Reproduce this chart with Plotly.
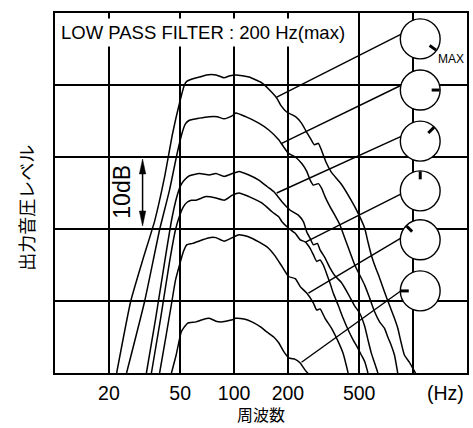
import math
import plotly.graph_objects as go

# ---------------- data (Hz, dB) ----------------
FREQ_MIN, FREQ_MAX = 10, 2000
DB_MIN, DB_MAX = 0, 50

tick_vals = [20, 50, 100, 200, 500, 1000]
tick_text = ["20", "50", "100", "200", "500", ""]

c1_f = [22.1, 26.5, 30.9, 36.1, 40.9, 45.4, 49.6, 52.8, 54.4, 57.8, 64.0, 70.0, 79.5, 88.0, 93.8, 102.6,
        121.1, 142.9, 162.4, 173.1, 182.1, 196.7, 220.6, 238.1, 253.7, 267.0, 281.0, 295.7, 307.2, 327.5,
        349.1, 396.6, 450.6, 492.7, 536.6, 559.6, 583.7, 609.5, 649.7, 692.5, 738.1, 786.7, 820.6, 855.9,
        894, 952.6, 993.6, 1036]
c1_db = [0, 10.0, 15.7, 21.2, 27.2, 33.3, 37.5, 40.0, 40.5, 40.8, 41.1, 41.4, 41.4, 41.0, 41.25, 41.4,
         41.1, 40.3, 39.0, 38.2, 37.2, 36.25, 35.6, 34.7, 33.5, 32.6, 31.7, 31.9, 31.0, 29.2,
         27.9, 26.25, 24.0, 22.2, 20.1, 18.2, 16.4, 15.0, 13.2, 11.25, 9.4, 7.6, 6.25, 4.3,
         2.5, 1.5, 0.7, -0.1]

c2_f = [25.1, 31.7, 38.4, 43.6, 48.3, 51.5, 53.5, 56.3, 64.0, 72.7, 80.5, 88.0, 97.5, 102.2, 116.1, 137.5,
        156.3, 177.6, 189.2, 201.7, 219.7, 239.0, 254.7, 266.1, 277.5, 295.7, 308.4, 322.1, 343.4, 365.9,
        390.0, 415.7, 443.2, 472.3, 503.4, 536.6, 571.9, 609.5, 649.7, 692.5, 722.3, 753.4, 786.7, 820.6]
c2_db = [0, 10.0, 19.9, 25.4, 30.7, 33.5, 34.6, 35.1, 35.4, 35.6, 35.6, 35.3, 35.7, 36.1, 35.6, 34.7,
         33.75, 32.4, 31.4, 30.5, 30.0, 29.1, 28.0, 26.8, 26.1, 26.3, 25.65, 24.5, 23.1, 21.9,
         20.6, 18.7, 16.85, 15.0, 13.6, 12.2, 10.4, 8.5, 7.1, 6.2, 5.0, 3.9, 2.5, 0]

c3_f = [32.4, 36.5, 40.95, 44.8, 47.7, 50.2, 52.8, 56.3, 64.0, 72.7, 79.2, 88.0, 97.9, 106.6, 121.1, 137.5,
        152.9, 166.6, 185.2, 206.1, 229.2, 244.3, 254.7, 266.0, 277.5, 292.0, 302.2, 322.1, 343.4, 365.9,
        396.6, 433.6, 472.3, 503.4, 536.6, 559.7, 583.8, 609.5, 635.9]
c3_db = [0, 7.6, 15.4, 21.25, 24.3, 26.0, 26.8, 27.4, 27.7, 27.5, 27.7, 27.3, 27.7, 28.0, 27.5, 26.8,
         25.9, 25.2, 23.8, 22.6, 21.9, 21.0, 19.6, 18.7, 17.8, 18.0, 17.1, 16.0, 14.6, 13.5,
         12.6, 11.0, 9.3, 8.3, 6.5, 4.6, 2.8, 1.4, 0]

c4_f = [34.55, 38.9, 43.6, 47.1, 49.6, 52.2, 54.9, 57.8, 61.3, 69.7, 79.2, 88.0, 97.9, 106.6, 121.1, 143.5,
        163.0, 177.6, 185.2, 201.7, 219.7, 234.2, 249.6, 266.0, 277.5, 289.4, 302.2, 315.2, 328.8, 343.4,
        358.1, 381.7, 406.8, 433.6, 462.2, 492.6, 513.8, 536.6, 559.7]
c4_db = [0, 7.6, 15.4, 19.9, 21.8, 23.1, 23.75, 24.0, 24.0, 24.5, 24.3, 24.0, 24.7, 25.0, 24.5, 23.6,
         22.4, 21.7, 21.0, 20.1, 19.4, 18.5, 18.2, 17.3, 16.4, 15.5, 15.7, 15.0, 13.8, 12.5,
         11.1, 9.4, 7.6, 6.0, 4.6, 3.4, 2.5, 1.6, 0]

c5_f = [38.4, 41.8, 44.6, 47.1, 49.6, 52.2, 54.4, 58.7, 66.7, 72.7, 79.2, 88.0, 97.9, 106.6, 121.1, 137.5,
        156.3, 170.2, 185.2, 201.7, 219.7, 234.2, 254.7, 277.5, 289.4, 302.2, 322.1, 350.5, 381.7, 406.8,
        433.6]
c5_db = [0, 5.3, 9.4, 12.9, 15.0, 16.9, 17.8, 18.0, 18.5, 18.8, 18.8, 18.3, 18.8, 19.2, 18.9, 18.2,
         17.3, 16.2, 14.8, 13.4, 13.1, 12.0, 11.1, 9.7, 8.75, 8.9, 7.6, 6.2, 4.35, 2.7,
         0]

c6_f = [44.7, 47.5, 50.7, 52.8, 54.9, 61.3, 66.5, 72.7, 79.2, 84.4, 89.9, 97.9, 102, 113.6, 125.8, 140.6,
        152.3, 166.5, 177.6, 189.2, 201.7, 219.7, 234.2, 249.6, 260]
c6_db = [0, 2.5, 5.7, 6.4, 6.9, 7.1, 7.4, 7.6, 7.2, 7.1, 7.2, 7.4, 7.6, 7.5, 7.1, 6.4,
         5.7, 5.0, 4.2, 3.0, 2.1, 1.9, 1.4, 0.4, -0.1]

curves = [(c1_f, c1_db), (c2_f, c2_db), (c3_f, c3_db), (c4_f, c4_db), (c5_f, c5_db), (c6_f, c6_db)]

# knob (volume position) markers and their leader lines
KNOB_F = 1096
knob_db = [46.4, 39.3, 32.2, 25.3, 18.5, 11.4]
knob_angle = [-35, 0, 45, 90, 135, 180]
pointer_f0 = [864, 864, 864, 864, 864, 864]
pointer_db0 = [47.1, 40.0, 32.9, 24.9, 18.8, 11.5]
pointer_f1 = [173.1, 184.5, 173.1, 252.2, 260.3, 238.1]
pointer_db1 = [38.3, 31.9, 25.0, 18.2, 11.1, 1.5]

# ---------------- layout constants ----------------
W, H = 473, 428
ML, MR, MT, MB = 55, 4, 13, 55
PW, PH = W - ML - MR, H - MT - MB
FONT = "Liberation Sans, Arial, Helvetica, sans-serif"
CJK = "Noto Sans CJK JP, sans-serif"
LOGSPAN = math.log10(FREQ_MAX) - math.log10(FREQ_MIN)


def px_x(xp):  # pixel -> paper
    return (xp - ML) / PW


def px_y(yp):
    return (H - MB - yp) / PH


def f_to_paper(f):
    return (math.log10(f) - math.log10(FREQ_MIN)) / LOGSPAN


def db_to_paper(d):
    return (d - DB_MIN) / (DB_MAX - DB_MIN)


fig = go.Figure()

for fx, dy in curves:
    fig.add_trace(go.Scatter(x=fx, y=dy, mode="lines",
                             line=dict(color="black", width=1.5, shape="spline", smoothing=0.5),
                             showlegend=False, hoverinfo="skip"))

for i in range(len(knob_db)):
    fig.add_trace(go.Scatter(x=[pointer_f0[i], pointer_f1[i]], y=[pointer_db0[i], pointer_db1[i]],
                             mode="lines", line=dict(color="black", width=1.4),
                             showlegend=False, hoverinfo="skip"))

shapes = []
R = 20
for d, ang in zip(knob_db, knob_angle):
    cx = f_to_paper(KNOB_F)
    cy = db_to_paper(d)
    shapes.append(dict(type="circle", xref="paper", yref="paper",
                       x0=cx - R / PW, x1=cx + R / PW, y0=cy - R / PH, y1=cy + R / PH,
                       line=dict(color="black", width=1.4), fillcolor="white", layer="above"))
    a = math.radians(ang)
    r0, r1 = 11.5, 19.5
    shapes.append(dict(type="line", xref="paper", yref="paper",
                       x0=cx + r0 * math.cos(a) / PW, y0=cy + r0 * math.sin(a) / PH,
                       x1=cx + r1 * math.cos(a) / PW, y1=cy + r1 * math.sin(a) / PH,
                       line=dict(color="black", width=3), layer="above"))

# 10 dB double arrow
AX = 143
top_tip, bot_tip, head_len, head_hw = 159, 226, 15, 3.2
shapes.append(dict(type="line", xref="paper", yref="paper",
                   x0=px_x(AX), x1=px_x(AX), y0=px_y(top_tip + head_len - 1), y1=px_y(bot_tip - head_len + 1),
                   line=dict(color="black", width=1.5), layer="above"))
for tip, base in [(top_tip, top_tip + head_len), (bot_tip, bot_tip - head_len)]:
    path = "M {:.5f},{:.5f} L {:.5f},{:.5f} L {:.5f},{:.5f} Z".format(
        px_x(AX), px_y(tip), px_x(AX - head_hw), px_y(base), px_x(AX + head_hw), px_y(base))
    shapes.append(dict(type="path", xref="paper", yref="paper", path=path,
                       fillcolor="black", line=dict(color="black", width=0.5), layer="above"))

annotations = [
    dict(text="LOW PASS FILTER : 200 Hz(max)", xref="paper", yref="paper", x=px_x(57), y=px_y(32.5),
         xanchor="left", yanchor="middle", showarrow=False, bgcolor="white", borderpad=3,
         font=dict(size=18.5, family=FONT, color="black")),
    dict(text="MAX", xref="paper", yref="paper", x=px_x(453), y=px_y(59), showarrow=False,
         xanchor="center", yanchor="middle", font=dict(size=12, family=FONT, color="black")),
    dict(text="出力音圧レベル", xref="paper", yref="paper", x=px_x(25), y=px_y(207.5), showarrow=False,
         textangle=-90, xanchor="center", yanchor="middle", font=dict(size=18, family=CJK, color="black")),
    dict(text="周波数", xref="paper", yref="paper", x=px_x(262), y=px_y(427.5), showarrow=False,
         xanchor="center", yanchor="bottom", borderpad=0,
         font=dict(size=16, family=CJK, color="black")),
    dict(text="(Hz)", xref="paper", yref="paper", x=px_x(447.5), y=px_y(392.5), showarrow=False,
         xanchor="center", yanchor="middle", borderpad=0, font=dict(size=19.5, family=FONT, color="black")),
    dict(text="10dB", xref="paper", yref="paper", x=px_x(121.5), y=px_y(191.5), showarrow=False,
         textangle=-90, xanchor="center", yanchor="middle", font=dict(size=23, family=FONT, color="black")),
]

fig.update_layout(
    width=W, height=H, margin=dict(l=ML, r=MR, t=MT, b=MB),
    paper_bgcolor="white", plot_bgcolor="white", showlegend=False,
    shapes=shapes, annotations=annotations,
    xaxis=dict(type="log", range=[math.log10(FREQ_MIN), math.log10(FREQ_MAX)],
               tickvals=tick_vals, ticktext=tick_text, ticks="", ticklabelstandoff=2,
               showgrid=True, gridcolor="black", gridwidth=1.5, zeroline=False,
               showline=True, linecolor="black", linewidth=2, mirror=True,
               tickfont=dict(size=19.5, family=FONT, color="black"), fixedrange=True),
    yaxis=dict(range=[DB_MIN, DB_MAX], dtick=10, showticklabels=False, ticks="",
               showgrid=True, gridcolor="black", gridwidth=1.5, zeroline=False,
               showline=True, linecolor="black", linewidth=2, mirror=True, fixedrange=True),
)

fig.write_html("out.html", config={"displayModeBar": False, "staticPlot": True},
               post_script="document.body.style.margin='0';document.body.style.overflow='hidden';")
